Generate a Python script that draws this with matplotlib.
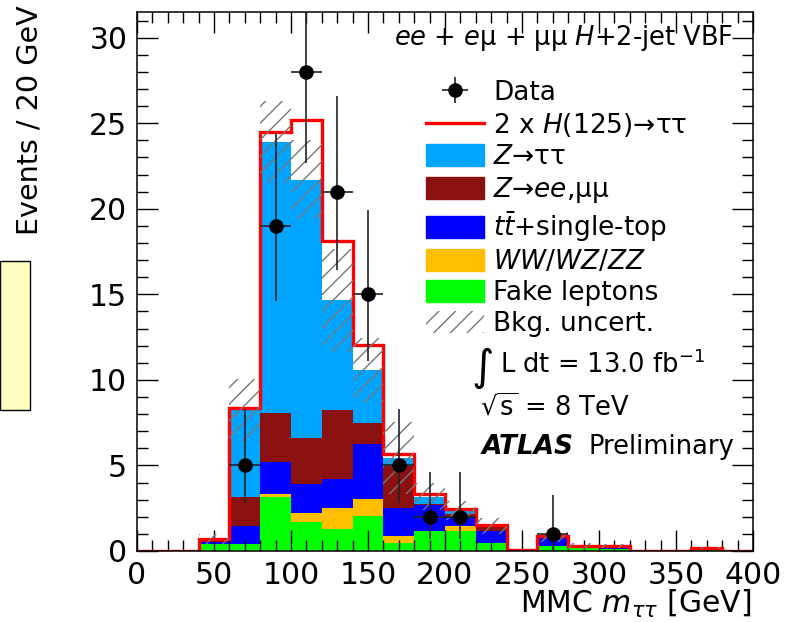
import matplotlib

matplotlib.use("Agg")
import matplotlib.pyplot as plt
import numpy as np
from matplotlib.lines import Line2D
from matplotlib.patches import Patch, Rectangle

# MMC m_tautau, 20 GeV bins from 0 to 400 GeV
bin_edges = np.arange(0, 420, 20)

fake_leptons = [0, 0, 0.40, 0.40, 3.13, 1.71, 1.27, 2.06, 0.45, 1.19,
                1.19, 0.45, 0, 0.29, 0.25, 0.10, 0, 0, 0.03, 0]
diboson = [0, 0, 0, 0, 0.18, 0.49, 1.26, 0.98, 0.44, 0,
           0.27, 0, 0.05, 0, 0, 0, 0, 0, 0, 0]
top_quark = [0, 0, 0.10, 1.06, 1.90, 1.69, 1.67, 3.19, 1.60, 1.50,
             0.54, 0.74, 0, 0.45, 0.02, 0.19, 0, 0, 0.12, 0]
z_ll = [0, 0, 0.20, 1.71, 2.83, 2.69, 4.03, 1.26, 2.46, 0.05,
        0.16, 0.27, 0, 0.02, 0, 0, 0, 0, 0, 0]
z_tautau = [0, 0, 0, 5.06, 15.86, 15.12, 6.42, 3.08, 0.50, 0.43,
            0.19, 0, 0, 0.04, 0.01, 0, 0, 0, 0, 0]
signal_2x = [0, 0, 0.02, 0.10, 0.60, 3.50, 3.45, 1.45, 0.21, 0.16,
             0.08, 0.06, 0.01, 0.06, 0.03, 0.02, 0, 0, 0.05, 0]
bkg_uncert = [0, 0, 0.30, 1.80, 2.40, 2.30, 3.00, 1.90, 2.10, 0.80,
              0.55, 0.45, 0.02, 0.30, 0.20, 0.12, 0, 0, 0.06, 0]

data_counts = [0, 0, 0, 5, 19, 28, 21, 15, 5, 2,
               2, 0, 0, 1, 0, 0, 0, 0, 0, 0]
data_err_up = [0, 0, 0, 3.3, 5.4, 6.3, 5.6, 4.9, 3.3, 2.6,
               2.6, 0, 0, 2.3, 0, 0, 0, 0, 0, 0]
data_err_down = [0, 0, 0, 2.2, 4.4, 5.3, 4.6, 3.9, 2.2, 1.3,
                 1.3, 0, 0, 1.0, 0, 0, 0, 0, 0, 0]

stack_labels = ["Fake leptons", "$WW/WZ/ZZ$", "$t\\bar{t}$+single-top",
                "$Z$→$ee$,μμ", "$Z$→ττ"]
stack_colors = ["#00ff00", "#ffbf00", "#0000ff", "#8b1111", "#00a5ff"]

plt.rcParams["font.family"] = ["DejaVu Sans"]
plt.rcParams["mathtext.fontset"] = "dejavusans"
plt.rcParams["hatch.linewidth"] = 1.0

fig = plt.figure(figsize=(7.86, 6.22), dpi=100)
ax = fig.add_axes([137 / 786, 71 / 622, 616 / 786, 539 / 622])

centers = (bin_edges[:-1] + bin_edges[1:]) / 2
width = np.diff(bin_edges)

bottom = np.zeros(len(centers))
stack_handles = []
for values, color, label in zip(
    [fake_leptons, diboson, top_quark, z_ll, z_tautau], stack_colors, stack_labels
):
    values = np.asarray(values, dtype=float)
    ax.bar(centers, values, width=width, bottom=bottom, color=color,
           linewidth=0, zorder=1)
    stack_handles.append(Patch(facecolor=color, edgecolor=color, label=label))
    bottom = bottom + values

total_bkg = bottom
total_with_signal = total_bkg + np.asarray(signal_2x)
ax.stairs(total_with_signal, bin_edges, color="#ff0000", linewidth=2.4, zorder=2)

uncert = np.asarray(bkg_uncert)
ax.bar(centers, 2 * uncert, width=width, bottom=total_bkg - uncert,
       fill=False, hatch="//", edgecolor="#777777", linewidth=0, zorder=3)

data = np.asarray(data_counts, dtype=float)
shown = data > 0
data_handle = ax.errorbar(
    centers[shown], data[shown], xerr=width[shown] / 2,
    yerr=[np.asarray(data_err_down)[shown], np.asarray(data_err_up)[shown]],
    fmt="o", color="black", ecolor="#222222", elinewidth=1.2,
    markersize=9.5, capsize=0, zorder=4, label="Data",
)

ax.set_xlim(0, 400)
ax.set_ylim(0, 31.5)
ax.set_xticks(np.arange(0, 401, 50))
ax.set_xticks(np.arange(0, 401, 10), minor=True)
ax.set_yticks(np.arange(0, 31, 5))
ax.set_yticks(np.arange(0, 32, 1), minor=True)
ax.tick_params(which="both", direction="in", top=True, right=True,
               width=1.0, labelsize=21.5)
ax.tick_params(which="major", length=15, pad=7)
ax.tick_params(which="minor", length=8)
for spine in ax.spines.values():
    spine.set_linewidth(1.1)

# Legend
signal_handle = Line2D([], [], color="#ff0000", linewidth=2.4)
uncert_handle = Patch(facecolor="white", hatch="//", edgecolor="#777777",
                      linewidth=0)
handles = [data_handle, signal_handle] + stack_handles[::-1] + [uncert_handle]
labels = ["Data", "2 x $H$(125)→ττ"] + stack_labels[::-1] + ["Bkg. uncert."]
ax.legend(handles, labels, loc="upper left", bbox_to_anchor=(0.469, 0.874),
          frameon=False, fontsize=19, borderpad=0, borderaxespad=0,
          handlelength=2.2, handleheight=0.9, handletextpad=0.35,
          labelspacing=0.185)

ax.text(387, 30.0, "$ee$ + $e$μ + μμ $H$+2-jet VBF", ha="right", va="center",
        fontsize=18.5)
ax.text(217.5, 10.7, "∫", fontsize=31, ha="left", va="center")
ax.text(235.5, 10.9, "L dt = 13.0 fb$^{-1}$", fontsize=18.5, ha="left",
        va="center")
ax.text(222.5, 8.35, "$\\sqrt{\\mathrm{s}}$ = 8 TeV", fontsize=18.5, ha="left",
        va="center")
ax.text(224, 6.07, "ATLAS", fontsize=19, fontweight="bold", style="italic",
        ha="left", va="center")
ax.text(293, 6.07, "Preliminary", fontsize=18.5, ha="left", va="center")

fig.text(30 / 786, 1 - 5 / 622, "Events / 20 GeV", rotation=90, ha="center",
         va="top", fontsize=20.6)
fig.text(751 / 786, 1 - 604 / 622, "MMC $m_{\\tau\\tau}$ [GeV]", ha="right",
         va="center", fontsize=21.5)

fig.patches.append(Rectangle((0, 1 - 410 / 622), 30 / 786, 149 / 622,
                             transform=fig.transFigure, facecolor="#ffffc0",
                             edgecolor="black", linewidth=1.0))

fig.savefig("out.png", dpi=100)
